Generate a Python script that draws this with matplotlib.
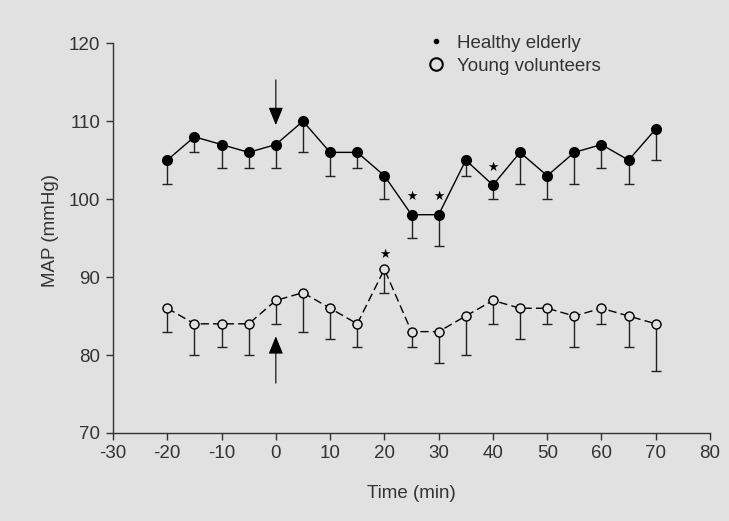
import numpy as np
import matplotlib
matplotlib.use('Agg')
import matplotlib.pyplot as plt
from matplotlib.lines import Line2D

# time points (min)
time = [-20, -15, -10, -5, 0, 5, 10, 15, 20, 25, 30, 35, 40, 45, 50, 55, 60, 65, 70]

# healthy elderly: mean MAP and lower error bar end
elderly = [105, 108, 107, 106, 107, 110, 106, 106, 103, 98, 98, 105, 101.8, 106, 103, 106, 107, 105, 109]
elderly_low = [102, 106, 104, 104, 104, 106, 103, 104, 100, 95, 94, 103, 100, 102, 100, 102, 104, 102, 105]

# young volunteers
young = [86, 84, 84, 84, 87, 88, 86, 84, 91, 83, 83, 85, 87, 86, 86, 85, 86, 85, 84]
young_low = [83, 80, 81, 80, 84, 83, 82, 81, 88, 81, 79, 80, 84, 82, 84, 81, 84, 81, 78]

# significant points (asterisks)
elderly_sig = [25, 30, 40]
young_sig = [20]

bg = '#e1e1e1'
txt = '#333333'

plt.rcParams['font.family'] = ['Liberation Sans', 'DejaVu Sans']
plt.rcParams['axes.unicode_minus'] = False

fig = plt.figure(figsize=(7.29, 5.21), dpi=100, facecolor=bg)
ax = fig.add_axes([0.155, 0.169, 0.819, 0.748], facecolor=bg)

t = np.array(time)
e = np.array(elderly)
y = np.array(young)
e_err = [e - np.array(elderly_low), np.zeros(len(e))]
y_err = [y - np.array(young_low), np.zeros(len(y))]

ax.errorbar(t, e, yerr=e_err, fmt='none', ecolor='#222222', elinewidth=1.0, capsize=3.5, capthick=1.0, zorder=2)
ax.errorbar(t, y, yerr=y_err, fmt='none', ecolor='#222222', elinewidth=1.0, capsize=3.5, capthick=1.0, zorder=2)

ax.plot(t, e, color='black', lw=1.0, marker='o', ms=7, mfc='black', mec='black', zorder=3)
ax.plot(t, y, color='black', lw=1.0, ls=(0, (6, 3)), marker='o', ms=6.5, mfc=bg, mec='black', mew=1.0, zorder=3)

# asterisks above significant points
for ts in elderly_sig:
    i = time.index(ts)
    ax.annotate('\u2605', (time[i], elderly[i]), xytext=(0, 13), textcoords='offset points',
                ha='center', va='center', fontsize=9, color='black', family='DejaVu Sans')
for ts in young_sig:
    i = time.index(ts)
    ax.annotate('\u2605', (time[i], young[i]), xytext=(0, 11), textcoords='offset points',
                ha='center', va='center', fontsize=9, color='black', family='DejaVu Sans')

# intervention arrows at t = 0
ax.annotate('', xy=(0, 109.5), xytext=(0, 115.3),
            arrowprops=dict(arrowstyle='-|>,head_length=1.1,head_width=0.45', color='black', lw=0.8,
                            shrinkA=0, shrinkB=0))
ax.annotate('', xy=(0, 82.4), xytext=(0, 76.4),
            arrowprops=dict(arrowstyle='-|>,head_length=1.1,head_width=0.45', color='black', lw=0.8,
                            shrinkA=0, shrinkB=0))

ax.set_xlim(-30, 80)
ax.set_ylim(70, 120)
ax.set_xticks(np.arange(-30, 81, 10))
ax.set_yticks(np.arange(70, 121, 10))

for s in ['top', 'right']:
    ax.spines[s].set_visible(False)
for s in ['left', 'bottom']:
    ax.spines[s].set_color('#333333')
    ax.spines[s].set_linewidth(1.0)

ax.tick_params(direction='out', length=5, width=1.0, colors='#333333', labelsize=13.5, labelcolor=txt, pad=4)

ax.set_xlabel('Time (min)', fontsize=13.5, color=txt, labelpad=16)
ax.set_ylabel('MAP (mmHg)', fontsize=13.5, color=txt, labelpad=14)
ax.yaxis.set_label_coords(-0.09, 0.52)

handles = [Line2D([], [], ls='none', marker='o', ms=3, mfc='black', mec='black'),
           Line2D([], [], ls='none', marker='o', ms=9, mfc='none', mec='black', mew=1.5)]
leg = ax.legend(handles, ['Healthy elderly', 'Young volunteers'], loc='upper left',
                bbox_to_anchor=(410 / 729, 1 - 18 / 521), bbox_transform=fig.transFigure,
                frameon=False, fontsize=13.5, handlelength=1.0, handletextpad=0.6, labelspacing=0.3)
for tx in leg.get_texts():
    tx.set_color(txt)

fig.savefig('out.png', dpi=100, facecolor=bg)
